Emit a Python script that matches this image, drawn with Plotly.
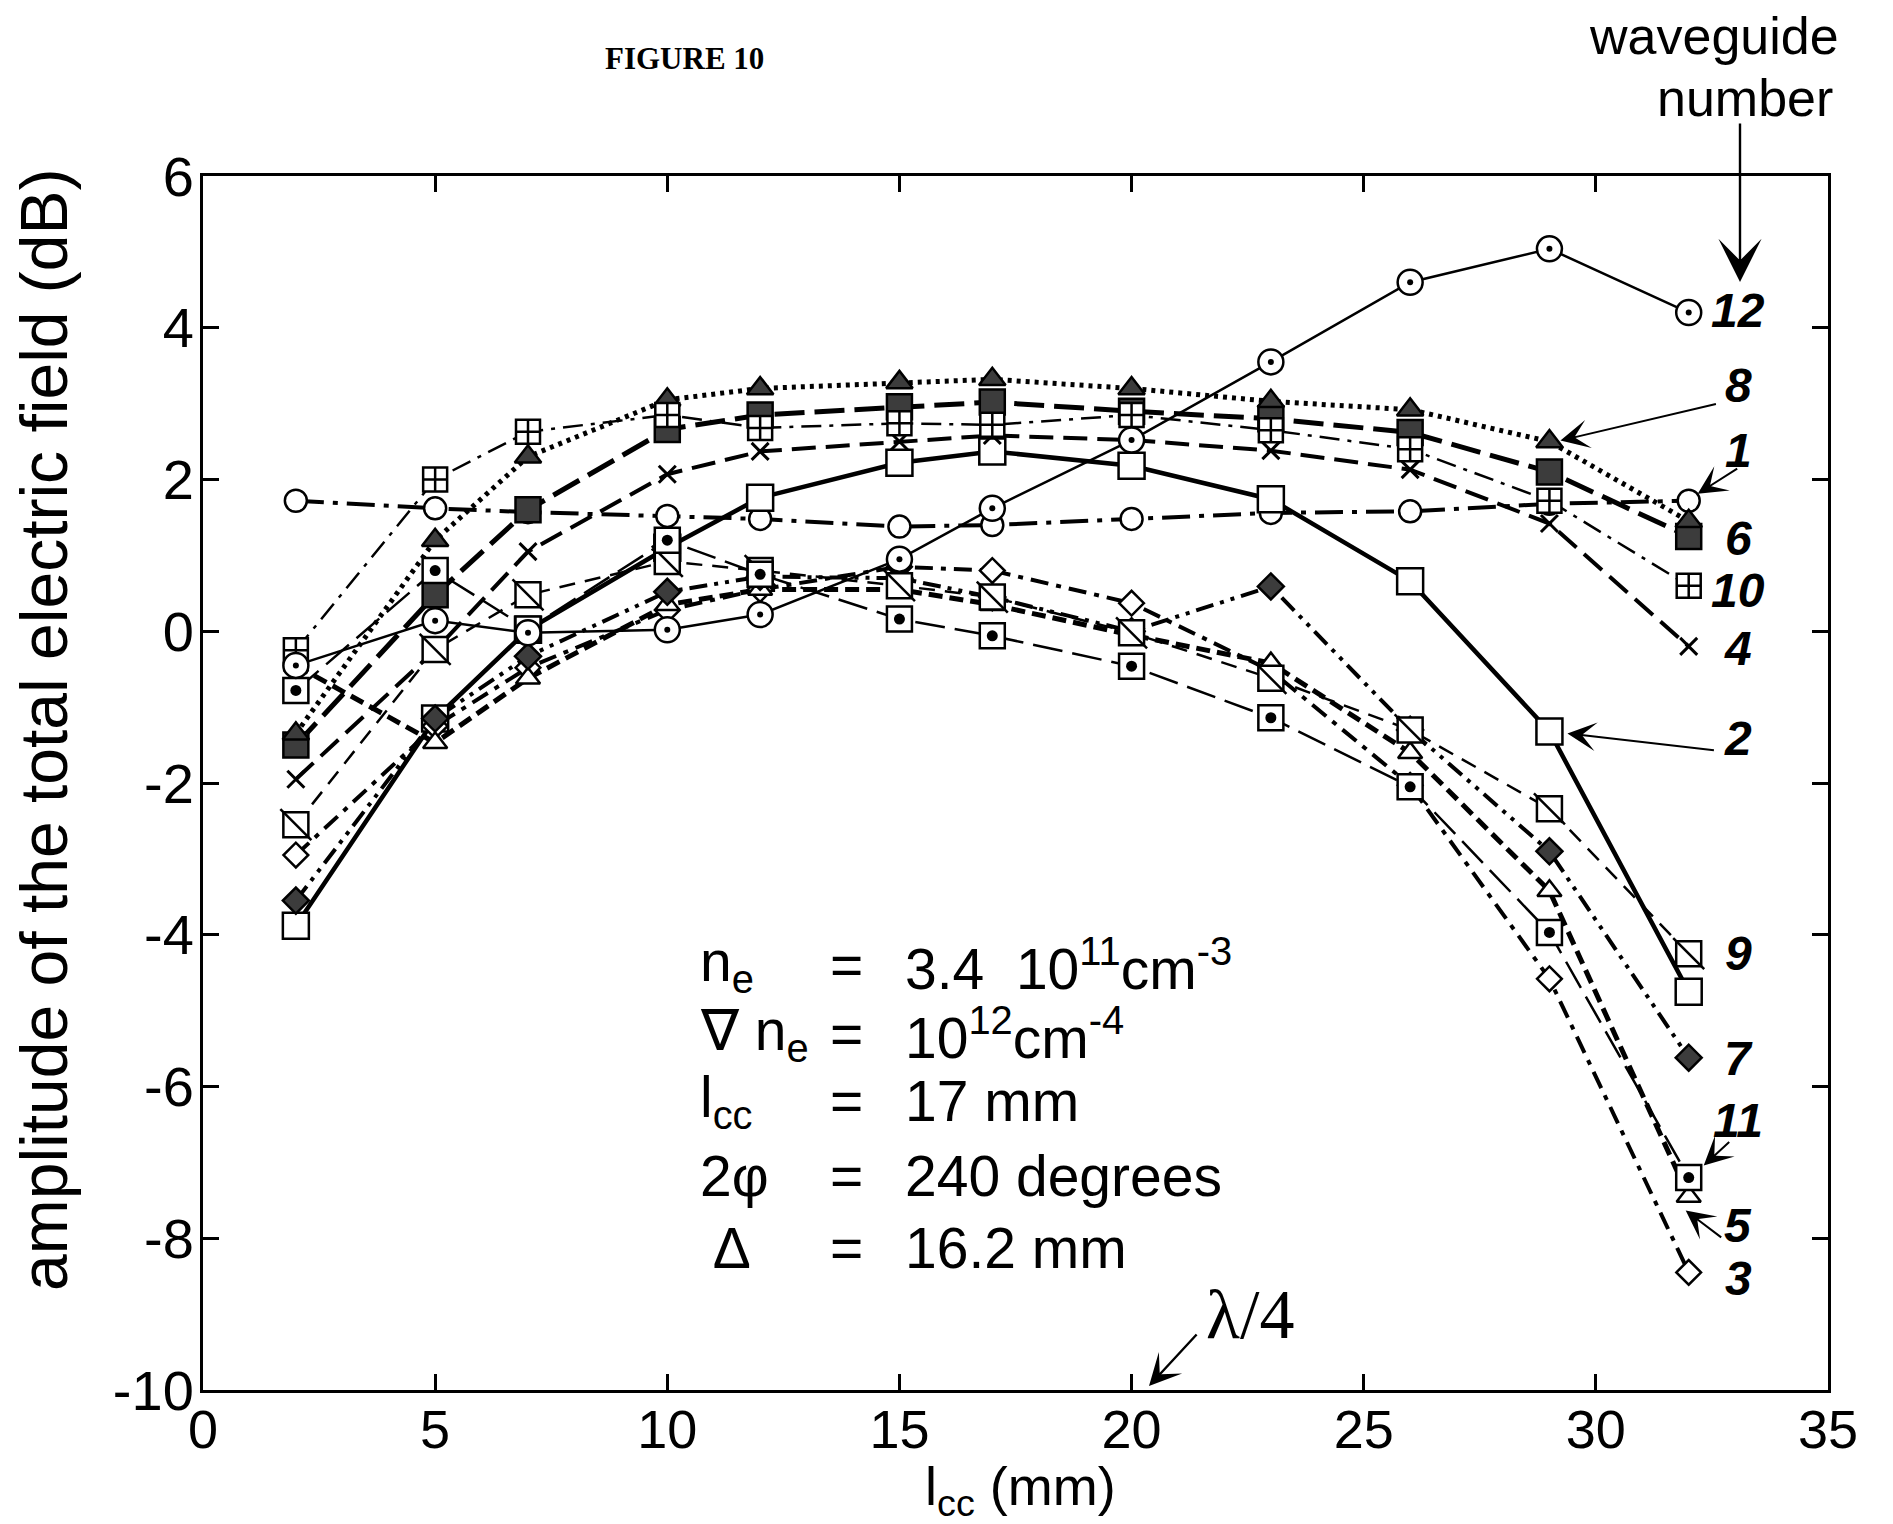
import plotly.graph_objects as go

# ---------------- data ----------------
lcc = [2, 5, 7, 10, 12, 15, 17, 20, 23, 26, 29, 32]

wg1 = [1.72, 1.62, 1.57, 1.52, 1.48, 1.38, 1.40, 1.48, 1.56, 1.58, 1.68, 1.72]
wg2 = [-3.88, -1.15, 0.02, 1.10, 1.76, 2.22, 2.37, 2.18, 1.74, 0.66, -1.32, -4.75]
wg3 = [-2.95, -1.25, -0.48, 0.28, 0.55, 0.85, 0.80, 0.37, -0.52, -2.03, -4.58, -8.45]
wg4 = [-1.95, -0.25, 1.05, 2.07, 2.37, 2.50, 2.58, 2.52, 2.38, 2.13, 1.42, -0.20]
wg5 = [-0.45, -1.47, -0.62, 0.35, 0.55, 0.55, 0.35, -0.05, -0.42, -1.60, -3.42, -7.45]
wg6 = [-1.50, 0.48, 1.60, 2.66, 2.85, 2.96, 3.02, 2.90, 2.80, 2.62, 2.10, 1.25]
wg7 = [-3.55, -1.15, -0.33, 0.52, 0.72, 0.70, 0.45, 0.00, 0.59, -1.30, -2.90, -5.62]
wg8 = [-1.35, 1.20, 2.30, 3.05, 3.20, 3.28, 3.32, 3.20, 3.03, 2.92, 2.50, 1.45]
wg9 = [-2.55, -0.24, 0.48, 0.92, 0.80, 0.60, 0.45, -0.02, -0.62, -1.30, -2.34, -4.25]
wg10 = [-0.25, 2.00, 2.63, 2.85, 2.68, 2.74, 2.72, 2.85, 2.65, 2.40, 1.72, 0.60]
wg11 = [-0.78, 0.80, 0.03, 1.20, 0.75, 0.16, -0.06, -0.46, -1.14, -2.05, -3.97, -7.20]
wg12 = [-0.45, 0.14, -0.02, 0.02, 0.22, 0.95, 1.62, 2.52, 3.55, 4.60, 5.04, 4.20]

x_ticks = [0, 5, 10, 15, 20, 25, 30, 35]
x_ticktext = ["0", "5", "10", "15", "20", "25", "30", "35"]
y_ticks = [-10, -8, -6, -4, -2, 0, 2, 4, 6]
y_ticktext = ["-10", "-8", "-6", "-4", "-2", "0", "2", "4", "6"]

labels = ["1", "2", "3", "4", "5", "6", "7", "8", "9", "10", "11", "12"]

# ---------------- layout geometry ----------------
OFF = 8                      # default page body margin
W, H = 1893 - OFF, 1524 - OFF
L, R, T, B = 203 - OFF, 65, 176 - OFF, 134
PW, PH = W - L - R, H - T - B

def paper(px, py):
    """screen pixel (in the 1893x1524 page) -> paper coordinates"""
    fx, fy = px - OFF, py - OFF
    return (fx - L) / PW, (H - B - fy) / PH

FONT = "Liberation Sans, Arial, sans-serif"
GREY = "#3c3c3c"

series = {
    "1": dict(y=wg1, dash="28px,9px,5px,9px", width=4, sym="circle", size=22, fill="white"),
    "2": dict(y=wg2, dash="solid", width=4.5, sym="square", size=26, fill="white"),
    "3": dict(y=wg3, dash="18px,8px,5px,8px", width=4, sym="diamond", size=19, fill="white"),
    "4": dict(y=wg4, dash="24px,10px", width=4, sym="x-thin", size=17, fill="black"),
    "5": dict(y=wg5, dash="14px,7px", width=5, sym="triangle-up", size=21, fill="white"),
    "6": dict(y=wg6, dash="30px,10px", width=5, sym="square", size=25, fill=GREY),
    "7": dict(y=wg7, dash="18px,7px,4px,7px,4px,7px", width=4, sym="diamond", size=20, fill=GREY),
    "8": dict(y=wg8, dash="4px,5px", width=5, sym="triangle-up", size=23, fill=GREY),
    "9": dict(y=wg9, dash="16px,10px", width=2.5, sym="square", size=25, fill="white"),
    "10": dict(y=wg10, dash="20px,8px,4px,8px", width=2.5, sym="square-cross", size=24, fill="white"),
    "11": dict(y=wg11, dash="30px,10px", width=2.5, sym="square", size=25, fill="white"),
    "12": dict(y=wg12, dash="solid", width=2.5, sym="circle", size=25, fill="white"),
}

fig = go.Figure()

# lines first
for name in labels:
    s = series[name]
    fig.add_trace(go.Scatter(x=lcc, y=s["y"], mode="lines",
                             line=dict(color="black", width=s["width"], dash=s["dash"]),
                             showlegend=False, hoverinfo="skip"))

# markers on top
for name in labels:
    s = series[name]
    lw = 3 if s["sym"] == "x-thin" else 2.5
    fig.add_trace(go.Scatter(x=lcc, y=s["y"], mode="markers",
                             marker=dict(symbol=s["sym"], size=s["size"], color=s["fill"],
                                         line=dict(color="black", width=lw)),
                             showlegend=False, name="waveguide " + name))
    if name == "9":
        fig.add_trace(go.Scatter(x=lcc, y=s["y"], mode="markers",
                                 marker=dict(symbol="line-nw", size=31, color="black",
                                             line=dict(color="black", width=2.5)),
                                 showlegend=False, hoverinfo="skip"))
    if name == "11":
        fig.add_trace(go.Scatter(x=lcc, y=s["y"], mode="markers",
                                 marker=dict(symbol="circle", size=11, color="black",
                                             line=dict(width=0)),
                                 showlegend=False, hoverinfo="skip"))
    if name == "12":
        fig.add_trace(go.Scatter(x=lcc, y=s["y"], mode="markers",
                                 marker=dict(symbol="circle", size=6, color="black",
                                             line=dict(width=0)),
                                 showlegend=False, hoverinfo="skip"))

ann = []

# waveguide number labels at the right
label_pos = {"12": 310, "8": 385, "1": 450, "6": 538, "10": 590, "4": 648,
             "2": 738, "9": 953, "7": 1058, "11": 1120, "5": 1225, "3": 1278}
for name, py in label_pos.items():
    xp, yp = paper(1738, py)
    ann.append(dict(x=xp, y=yp, xref="paper", yref="paper", text="<b><i>%s</i></b>" % name,
                    showarrow=False, xanchor="center", yanchor="middle",
                    font=dict(family=FONT, size=48, color="black")))

# arrows pointing from labels to curves (heads attached to data points)
def arrow_to(xv, yv, xs, ys, ax, ay):
    return dict(x=xv, y=yv, xref="x", yref="y", text="", showarrow=True,
                xshift=xs, yshift=ys, ax=ax, ay=ay, arrowhead=3, arrowsize=2.4,
                arrowwidth=2, arrowcolor="black", standoff=0)

ann.append(arrow_to(lcc[10], wg8[10], 11, 1, 157, -37))
ann.append(arrow_to(lcc[11], wg1[11], 9, 7, 41, -26))
ann.append(arrow_to(lcc[10], wg2[10], 18, -2, 148, 17))
ann.append(arrow_to(lcc[11], wg11[11], 15, 12, 27, -25))
ann.append(arrow_to(lcc[11], wg5[11], -3, -14, 37, 28))

# "waveguide number" header with arrow
xp, yp = paper(1714, 36)
ann.append(dict(x=xp, y=yp, xref="paper", yref="paper", text="waveguide", showarrow=False,
                xanchor="center", yanchor="middle", font=dict(family=FONT, size=52, color="black")))
xp, yp = paper(1745, 98)
ann.append(dict(x=xp, y=yp, xref="paper", yref="paper", text="number", showarrow=False,
                xanchor="center", yanchor="middle", font=dict(family=FONT, size=52, color="black")))
xp, yp = paper(1740, 282)
ann.append(dict(x=xp, y=yp, xref="paper", yref="paper", text="", showarrow=True,
                ax=0, ay=-160, arrowhead=3, arrowsize=3.0, arrowwidth=2.4,
                arrowcolor="black", standoff=0))

# lambda/4 marker
xp, yp = paper(1149, 1386)
ann.append(dict(x=xp, y=yp, xref="paper", yref="paper", text="", showarrow=True,
                ax=49, ay=-53, arrowhead=3, arrowsize=2.2, arrowwidth=2.4,
                arrowcolor="black", standoff=0))
xp, yp = paper(1250, 1314)
ann.append(dict(x=xp, y=yp, xref="paper", yref="paper", text="λ/4", showarrow=False,
                xanchor="center", yanchor="middle",
                font=dict(family="Liberation Serif, Times New Roman, serif", size=70, color="black")))

# title
xp, yp = paper(684, 58)
ann.append(dict(x=xp, y=yp, xref="paper", yref="paper", text="<b>FIGURE 10</b>", showarrow=False,
                xanchor="center", yanchor="middle",
                font=dict(family="Liberation Serif, Times New Roman, serif", size=31, color="black")))

# parameter block
PFS = 57
rows = [
    ("n<sub>e</sub>", "3.4  10<sup>11</sup>cm<sup>-3</sup>", 965),
    ("∇ n<sub>e</sub>", "10<sup>12</sup>cm<sup>-4</sup>", 1034),
    ("l<sub>cc</sub>", "17 mm", 1101),
    ("2φ", "240 degrees", 1176),
    (" Δ", "16.2 mm", 1248),
]
for lab, val, py in rows:
    for txt, px in ((lab, 698), ("=", 828), (val, 903)):
        xp, yp = paper(px, py)
        ann.append(dict(x=xp, y=yp, xref="paper", yref="paper", text=txt, showarrow=False,
                        xanchor="left", yanchor="middle",
                        font=dict(family=FONT, size=PFS, color="black")))

# axis titles
xp, yp = paper(44, 730)
ann.append(dict(x=xp, y=yp, xref="paper", yref="paper",
                text="amplitude of the total electric field (dB)", textangle=-90,
                showarrow=False, xanchor="center", yanchor="middle",
                font=dict(family=FONT, size=66, color="black")))
xp, yp = paper(1020, 1490)
ann.append(dict(x=xp, y=yp, xref="paper", yref="paper", text="l<sub>cc</sub> (mm)",
                showarrow=False, xanchor="center", yanchor="middle",
                font=dict(family=FONT, size=54, color="black")))

axis_common = dict(showgrid=False, zeroline=False, showline=True, linecolor="black",
                   linewidth=3, mirror="ticks", ticks="inside", ticklen=16, tickwidth=2.5,
                   tickcolor="black")

fig.update_layout(
    width=W, height=H,
    margin=dict(l=L, r=R, t=T, b=B, pad=0),
    paper_bgcolor="white", plot_bgcolor="white",
    showlegend=False,
    xaxis=dict(range=[0, 35], tickvals=x_ticks, ticktext=x_ticktext, ticklabelstandoff=-10,
               tickfont=dict(family=FONT, size=54, color="black"), **axis_common),
    yaxis=dict(range=[-10, 6], tickvals=y_ticks, ticktext=y_ticktext, ticklabelstandoff=-5,
               tickfont=dict(family=FONT, size=56, color="black"), **axis_common),
    annotations=ann,
)

fig.write_html("out.html")
